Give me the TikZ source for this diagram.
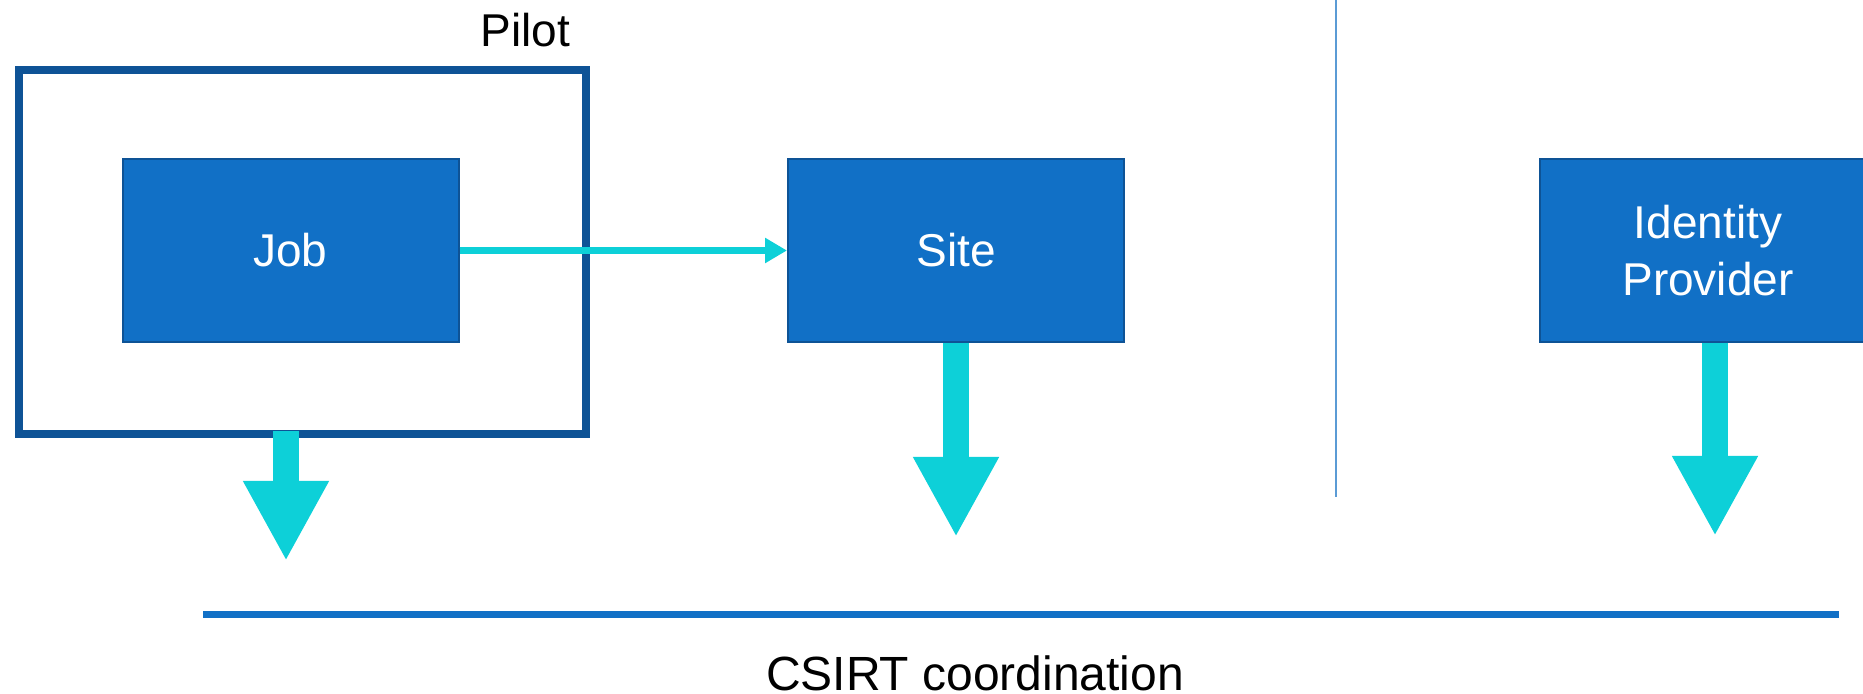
\documentclass[tikz,border=0pt]{standalone}
\usepackage{fontspec}
\setmainfont{Liberation Sans}
\usetikzlibrary{arrows.meta,positioning}
\definecolor{boxblue}{RGB}{17,112,198}
\definecolor{edgeblue}{RGB}{14,83,150}
\definecolor{arrowcyan}{RGB}{13,208,216}
\definecolor{divider}{RGB}{91,155,213}
\newcommand{\bigfont}{\fontsize{23}{28.5}\selectfont}
\tikzset{
  unit/.style={draw=edgeblue, line width=1pt, fill=boxblue, text=white, minimum width=168pt, minimum height=91.5pt, inner sep=0pt, font=\bigfont, align=center},
  bigarrow/.style={arrowcyan, line width=13pt, -{Triangle[width=40pt,length=40pt]}},
}
\begin{document}
\begin{tikzpicture}[x=0.5pt,y=-0.5pt]
    \useasboundingbox (0,0) rectangle (1863,694);
    \clip (0,0) rectangle (1863,694);

    % pilot wrapper and the three parties
    \node[draw=edgeblue, line width=4pt, minimum width=283.5pt, minimum height=182pt, inner sep=0pt] (pilot) at (302.5,252) {};
    \node[anchor=base east, font=\bigfont] (pilotlabel) at (577,47) {Pilot};
    \node[unit] (job) at (290.5,250.5) {Job};
    \node[unit] (site) at (956,250.5) {Site};
    \node[unit] (idp) at (1708,250.5) {Identity\\Provider};

    \draw[arrowcyan, line width=3.5pt, -{Triangle[width=12pt,length=11pt]}] (job.east) -- (site.west);

    % reports down to the CSIRTs
    \coordinate (pilotdrop) at (286,561);
    \coordinate (sitedrop) at (956,537);
    \coordinate (idpdrop) at (1715,536);
    \draw[bigarrow] (pilotdrop |- 0,431) -- (pilotdrop);
    \draw[bigarrow] (site.south) -- (sitedrop);
    \draw[bigarrow] (idpdrop |- idp.south) -- (idpdrop);

    \draw[divider, line width=0.75pt] (1336,0) -- (1336,497);

    \coordinate (csirtleft) at (203,615);
    \coordinate (csirtright) at (1839,615);
    \draw[boxblue, line width=3.5pt] (csirtleft) -- (csirtright);
    \node[anchor=base, font=\fontsize{24}{29}\selectfont] (csirt) at (975,690) {CSIRT coordination};
\end{tikzpicture}
\end{document}
